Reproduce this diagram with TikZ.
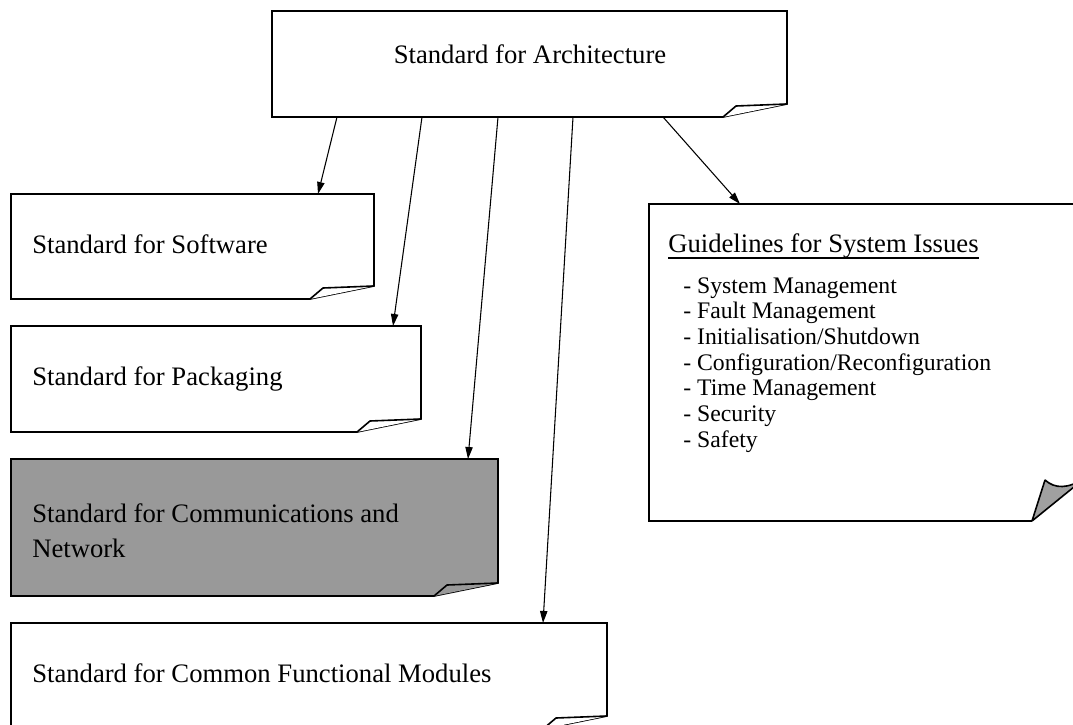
\documentclass[tikz,border=0pt]{standalone}
\usepackage{fontspec}
\setmainfont{Liberation Serif}
\usetikzlibrary{fit,calc,arrows.meta}
\definecolor{boxgray}{RGB}{153,153,153}
\definecolor{foldgray}{RGB}{160,160,160}
\newcommand\foldbox[2]{%
 \draw[outline, fill=#2] (#1.north west) -- (#1.north east) -- ($(#1.south east)+(0,-13)$) -- ($(#1.south east)+(-64,0)$) -- (#1.south west) -- cycle;
 \draw[outline, fill=#2, line join=bevel] ($(#1.south east)+(0,-13)$) -- ($(#1.south east)+(-51,-11)$) -- ($(#1.south east)+(-64,0)$);
}
\begin{document}
\begin{tikzpicture}[x=0.75pt,y=-0.75pt,
  area/.style={inner sep=0pt, outer sep=0pt},
  outline/.style={draw=black, line width=1.2pt, line join=miter},
  conn/.style={draw=black, line width=0.8pt, -{Triangle[length=9pt,width=5.5pt]}},
  maintext/.style={inner sep=0pt, font=\fontsize{20}{24}\selectfont},
  listtext/.style={inner sep=0pt, font=\fontsize{17.8}{19}\selectfont, anchor=base west},
]
\clip (0,0) rectangle (1073,724);
\fill[white] (0,0) rectangle (1073,724);

% box areas
\node[area, fit={(272,11) (787,117)}] (arch) {};
\node[area, fit={(11,194) (374,299)}] (soft) {};
\node[area, fit={(11,326) (421,432)}] (pack) {};
\node[area, fit={(11,459) (498,596)}] (comm) {};
\node[area, fit={(11,623) (607,729)}] (cfm) {};
\node[area, fit={(649,204) (1085,521)}] (guide) {};

\foldbox{arch}{white}
\foldbox{soft}{white}
\foldbox{pack}{white}
\foldbox{comm}{boxgray}
\foldbox{cfm}{white}

% guidelines box with curled corner
\draw[outline, fill=white] (guide.north east) -- (guide.north west) -- (guide.south west) -- ($(guide.south west)+(383,0)$);
\draw[outline] (guide.north east) -- ($(guide.south east)+(0,-43)$);
\draw[outline, fill=foldgray, line join=bevel] ($(guide.south west)+(383,0)$) -- ($(guide.south west)+(396,-41)$)
   .. controls ($(guide.south west)+(406,-32)$) and ($(guide.south west)+(419,-32)$) .. ($(guide.south east)+(0,-43)$) -- cycle;

% texts
\node[maintext, anchor=base] (archtext) at (530,64) {Standard for Architecture};
\node[maintext, anchor=base west] (softtext) at (32,253) {Standard for Software};
\node[maintext, anchor=base west] (packtext) at (32,385) {Standard for Packaging};
\node[maintext, anchor=base west] (commtexta) at (32,522) {Standard for Communications and};
\node[maintext, anchor=base west] (commtextb) at (32,557) {Network};
\node[maintext, anchor=base west] (cfmtext) at (32,682) {Standard for Common Functional Modules};
\node[maintext, anchor=base west] (guidetitle) at (668,252) {Guidelines for System Issues};
\draw[line width=1.6pt] ($(guidetitle.base west)+(0,6)$) -- ($(guidetitle.base east)+(0,6)$);

\foreach \t [count=\i from 0] in {System Management, Fault Management, Initialisation/Shutdown, Configuration/Reconfiguration, Time Management, Security, Safety}
  \node[listtext] (item\i) at (683, 293+25.7*\i) {- \t};

% connectors
\draw[conn] ($(arch.south west)+(65,0)$) -- ($(soft.north west)+(307,0)$);
\draw[conn] ($(arch.south west)+(150,0)$) -- ($(pack.north west)+(382,0)$);
\draw[conn] ($(arch.south west)+(226,0)$) -- ($(comm.north west)+(457,0)$);
\draw[conn] ($(arch.south west)+(301,0)$) -- ($(cfm.north west)+(532,0)$);
\draw[conn] ($(arch.south west)+(391,0)$) -- ($(guide.north west)+(91,0)$);
\end{tikzpicture}
\end{document}
